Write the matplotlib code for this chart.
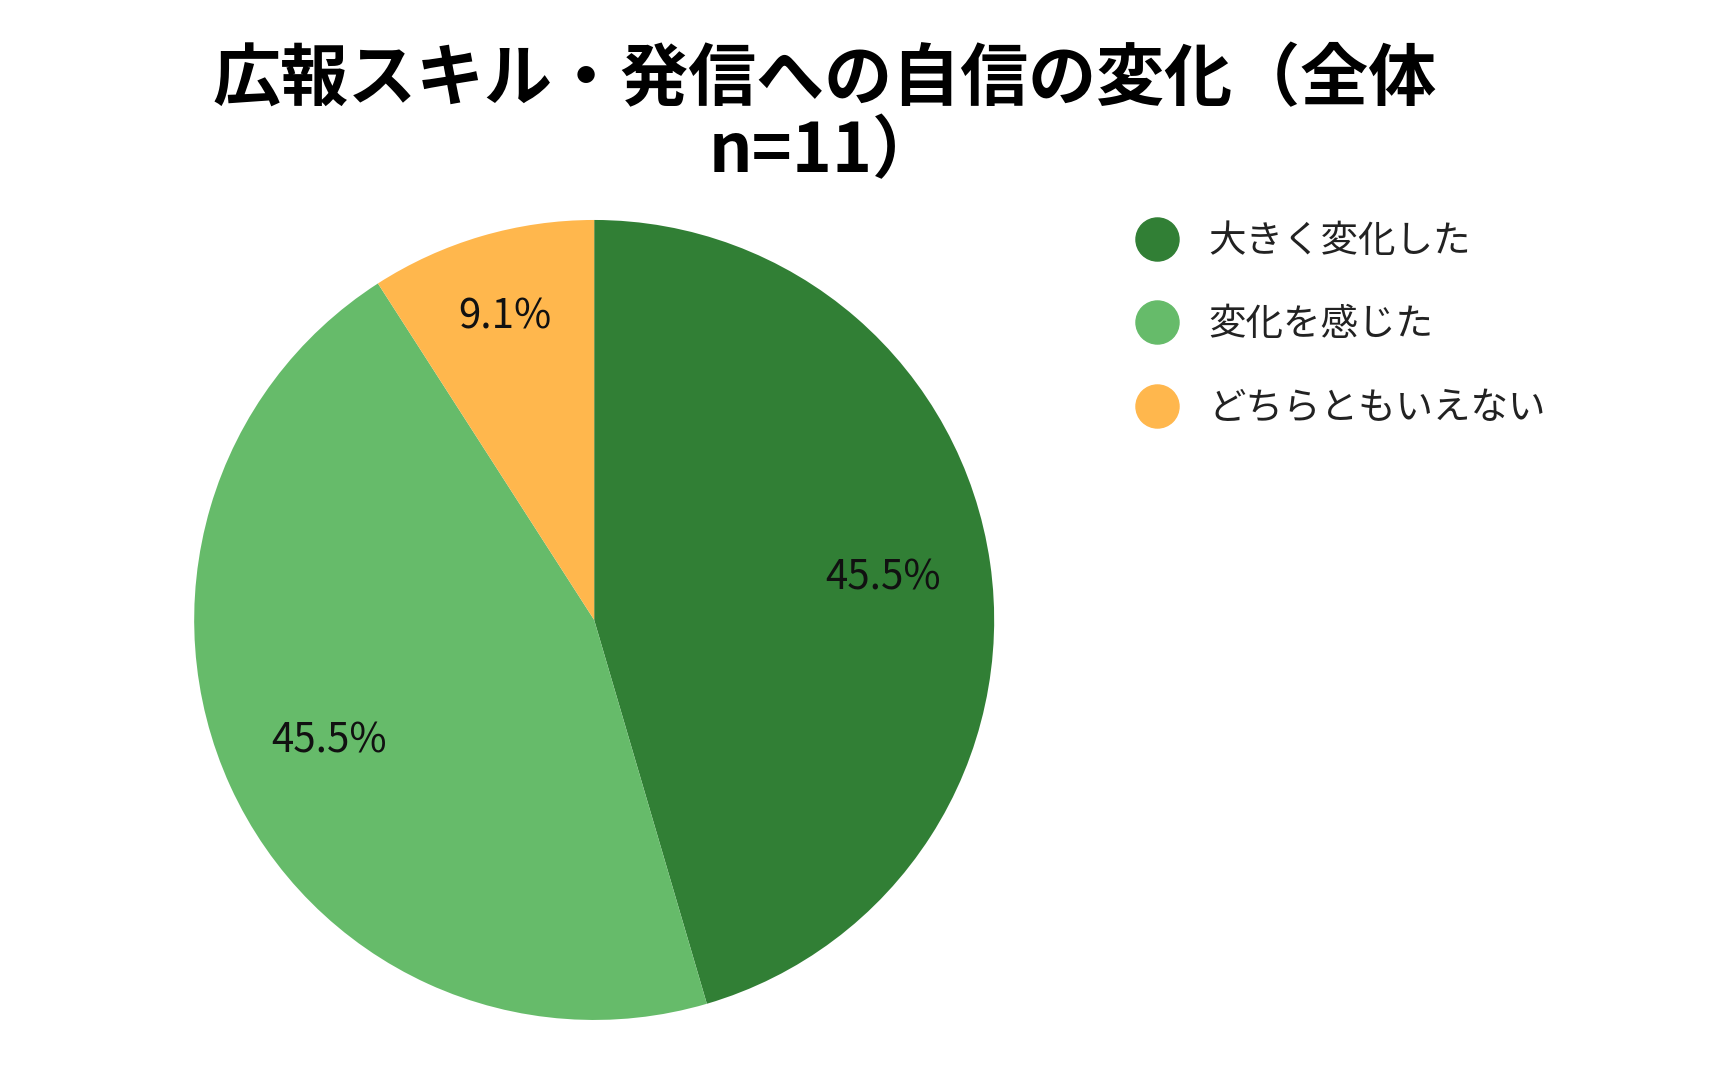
import matplotlib
matplotlib.use('Agg')
import matplotlib.pyplot as plt
from matplotlib.lines import Line2D
import numpy as np

plt.rcParams['font.family'] = ['Noto Sans CJK JP', 'DejaVu Sans']

# Data
labels = ['大きく変化した', '変化を感じた', 'どちらともいえない']
counts = [5, 5, 1]
colors = ['#317f35', '#66bb6a', '#ffb74d']
title = '広報スキル・発信への自信の変化（全体\nn=11）'

fig = plt.figure(figsize=(17.26, 10.74), dpi=100)
ax = fig.add_axes([0.1125, 0.0503, 0.4635, 0.7449])

wedges, texts, autotexts = ax.pie(
    counts, colors=colors, startangle=90, counterclock=False,
    autopct='%.1f%%', pctdistance=0.73,
    textprops={'fontsize': 29, 'color': '#111111'},
    wedgeprops={'linewidth': 0},
)
ax.set_xlim(-1, 1)
ax.set_ylim(-1, 1)
ax.set_aspect('equal')

# small slice label sits a bit further out
w = wedges[2]
mid = np.deg2rad((w.theta1 + w.theta2) / 2)
autotexts[2].set_position((0.79 * np.cos(mid), 0.79 * np.sin(mid)))

fig.text(0.478, 1 - 46 / 1074, title, ha='center', va='top',
         fontsize=49, fontweight='bold', linespacing=1.05)

handles = [Line2D([], [], marker='o', linestyle='none', markersize=31,
                  markerfacecolor=c, markeredgecolor=c) for c in colors]
fig.legend(handles, labels, loc='upper left',
           bbox_to_anchor=(1101 / 1726, 1 - 188 / 1074),
           frameon=False, fontsize=27, labelspacing=1.19,
           handletextpad=0.77, handlelength=1.2, labelcolor='#222222')

fig.savefig('out.png', dpi=100)
